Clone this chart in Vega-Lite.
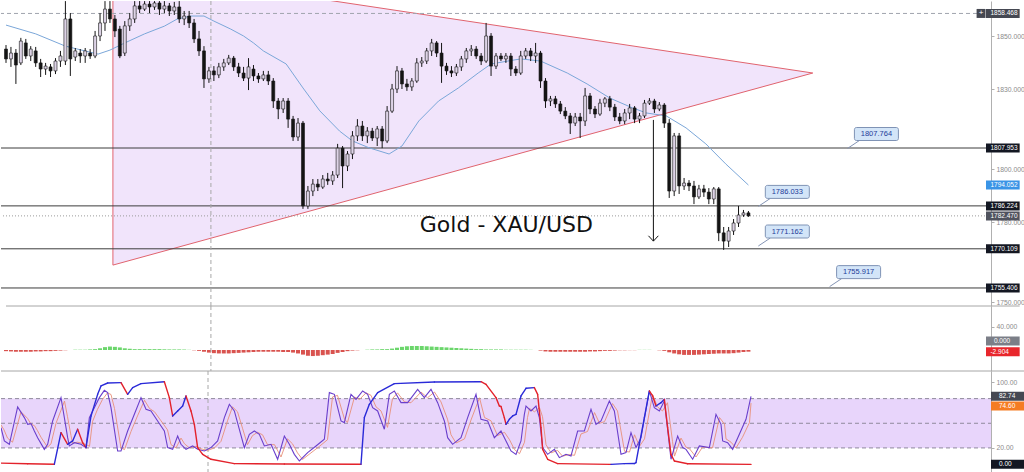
{
"$schema": "https://vega.github.io/schema/vega-lite/v6.json",
"background": "white",
"padding": 0,
"spacing": 0,
"bounds": "flush",
"config": {"view": {"stroke": null}, "axis": {"grid": false}, "text": {"font": "Liberation Sans"}},
"datasets": {
"c": [
{"t":0,"o":1845.1,"h":1846.6,"l":1839.9,"c":1841.4},{"t":1,"o":1841.4,"h":1845.9,"l":1838.4,"c":1843.6},{"t":2,"o":1843.6,"h":1845.1,"l":1832.0,"c":1839.1},{"t":3,"o":1839.9,"h":1849.3,"l":1839.1,"c":1848.1},{"t":4,"o":1847.4,"h":1848.9,"l":1841.4,"c":1842.5},{"t":5,"o":1842.5,"h":1846.2,"l":1840.6,"c":1845.1},{"t":6,"o":1844.4,"h":1845.9,"l":1838.4,"c":1839.9},{"t":7,"o":1839.9,"h":1841.4,"l":1834.6,"c":1837.6},{"t":8,"o":1837.6,"h":1839.9,"l":1835.4,"c":1838.7},{"t":9,"o":1838.4,"h":1839.5,"l":1834.6,"c":1836.9},
{"t":10,"o":1836.9,"h":1841.7,"l":1835.7,"c":1840.6},{"t":11,"o":1840.6,"h":1844.4,"l":1838.4,"c":1842.5},{"t":12,"o":1840.6,"h":1863.1,"l":1839.1,"c":1856.4},{"t":13,"o":1856.4,"h":1858.6,"l":1835.0,"c":1841.4},{"t":14,"o":1842.1,"h":1845.5,"l":1840.6,"c":1844.4},{"t":15,"o":1843.6,"h":1845.1,"l":1839.9,"c":1842.5},{"t":16,"o":1842.5,"h":1845.5,"l":1839.9,"c":1844.4},{"t":17,"o":1843.6,"h":1845.1,"l":1841.4,"c":1842.5},{"t":18,"o":1842.5,"h":1851.9,"l":1841.7,"c":1850.0},{"t":19,"o":1850.0,"h":1858.6,"l":1848.1,"c":1854.9},
{"t":20,"o":1854.9,"h":1863.1,"l":1851.9,"c":1860.1},{"t":21,"o":1860.1,"h":1863.1,"l":1854.9,"c":1856.4},{"t":22,"o":1856.4,"h":1857.9,"l":1849.6,"c":1851.9},{"t":23,"o":1852.6,"h":1853.8,"l":1841.7,"c":1842.5},{"t":24,"o":1843.6,"h":1855.6,"l":1842.5,"c":1853.8},{"t":25,"o":1853.8,"h":1858.6,"l":1851.9,"c":1856.4},{"t":26,"o":1856.4,"h":1863.1,"l":1854.9,"c":1861.3},{"t":27,"o":1861.3,"h":1863.1,"l":1858.6,"c":1860.1},{"t":28,"o":1860.1,"h":1863.1,"l":1859.4,"c":1862.0},{"t":29,"o":1862.0,"h":1863.1,"l":1858.6,"c":1860.9},
{"t":30,"o":1860.9,"h":1863.1,"l":1859.8,"c":1862.4},{"t":31,"o":1862.4,"h":1863.1,"l":1857.9,"c":1860.1},{"t":32,"o":1860.1,"h":1863.1,"l":1858.6,"c":1861.3},{"t":33,"o":1861.3,"h":1862.4,"l":1857.5,"c":1859.4},{"t":34,"o":1859.4,"h":1862.8,"l":1857.9,"c":1860.9},{"t":35,"o":1860.9,"h":1863.1,"l":1854.9,"c":1856.4},{"t":36,"o":1856.4,"h":1859.4,"l":1854.1,"c":1857.5},{"t":37,"o":1857.5,"h":1859.4,"l":1853.0,"c":1854.9},{"t":38,"o":1854.9,"h":1856.4,"l":1847.4,"c":1848.9},{"t":39,"o":1848.9,"h":1851.9,"l":1842.5,"c":1844.4},
{"t":40,"o":1844.4,"h":1846.2,"l":1830.5,"c":1833.9},{"t":41,"o":1833.9,"h":1838.4,"l":1832.4,"c":1836.9},{"t":42,"o":1836.9,"h":1838.7,"l":1833.1,"c":1835.4},{"t":43,"o":1835.4,"h":1839.9,"l":1834.2,"c":1838.4},{"t":44,"o":1838.4,"h":1841.4,"l":1836.9,"c":1839.9},{"t":45,"o":1839.9,"h":1842.9,"l":1839.1,"c":1841.7},{"t":46,"o":1841.7,"h":1842.5,"l":1836.9,"c":1838.4},{"t":47,"o":1838.4,"h":1839.9,"l":1834.6,"c":1836.1},{"t":48,"o":1836.1,"h":1838.4,"l":1833.1,"c":1834.2},{"t":49,"o":1834.2,"h":1841.7,"l":1829.7,"c":1838.4},
{"t":50,"o":1837.6,"h":1839.1,"l":1833.1,"c":1835.0},{"t":51,"o":1835.0,"h":1836.1,"l":1832.4,"c":1833.9},{"t":52,"o":1833.9,"h":1836.9,"l":1833.1,"c":1835.4},{"t":53,"o":1835.4,"h":1836.9,"l":1831.6,"c":1833.1},{"t":54,"o":1833.1,"h":1834.2,"l":1823.0,"c":1825.6},{"t":55,"o":1825.6,"h":1826.7,"l":1818.8,"c":1822.6},{"t":56,"o":1822.6,"h":1826.7,"l":1821.1,"c":1825.6},{"t":57,"o":1825.6,"h":1826.7,"l":1815.5,"c":1818.8},{"t":58,"o":1818.8,"h":1820.0,"l":1810.6,"c":1812.1},{"t":59,"o":1812.1,"h":1819.2,"l":1810.6,"c":1817.3},
{"t":60,"o":1817.3,"h":1818.1,"l":1785.1,"c":1786.2},{"t":61,"o":1786.2,"h":1793.7,"l":1785.1,"c":1791.8},{"t":62,"o":1791.8,"h":1796.3,"l":1789.9,"c":1794.4},{"t":63,"o":1794.4,"h":1796.3,"l":1791.8,"c":1793.3},{"t":64,"o":1793.3,"h":1797.8,"l":1792.6,"c":1796.3},{"t":65,"o":1796.3,"h":1798.6,"l":1794.1,"c":1795.6},{"t":66,"o":1795.6,"h":1799.3,"l":1794.1,"c":1797.8},{"t":67,"o":1797.8,"h":1809.5,"l":1796.7,"c":1807.9},{"t":68,"o":1807.9,"h":1808.7,"l":1792.9,"c":1801.2},{"t":69,"o":1801.2,"h":1806.8,"l":1799.3,"c":1805.7},
{"t":70,"o":1805.7,"h":1814.3,"l":1803.8,"c":1812.5},{"t":71,"o":1812.5,"h":1818.8,"l":1810.6,"c":1816.2},{"t":72,"o":1816.2,"h":1818.1,"l":1810.6,"c":1812.5},{"t":73,"o":1812.5,"h":1815.8,"l":1809.8,"c":1814.3},{"t":74,"o":1814.3,"h":1815.5,"l":1810.6,"c":1811.7},{"t":75,"o":1811.7,"h":1816.2,"l":1808.7,"c":1815.1},{"t":76,"o":1815.1,"h":1816.2,"l":1807.9,"c":1810.6},{"t":77,"o":1810.6,"h":1823.7,"l":1809.8,"c":1821.8},{"t":78,"o":1821.8,"h":1832.0,"l":1821.1,"c":1830.1},{"t":79,"o":1830.1,"h":1838.7,"l":1828.6,"c":1836.9},
{"t":80,"o":1836.9,"h":1838.0,"l":1830.1,"c":1832.0},{"t":81,"o":1832.0,"h":1833.9,"l":1829.4,"c":1830.9},{"t":82,"o":1830.9,"h":1834.2,"l":1829.4,"c":1833.1},{"t":83,"o":1833.1,"h":1841.7,"l":1832.4,"c":1839.9},{"t":84,"o":1839.9,"h":1842.1,"l":1838.4,"c":1840.6},{"t":85,"o":1840.6,"h":1845.5,"l":1839.5,"c":1844.4},{"t":86,"o":1844.4,"h":1848.9,"l":1842.5,"c":1847.4},{"t":87,"o":1847.4,"h":1848.1,"l":1842.1,"c":1843.6},{"t":88,"o":1843.6,"h":1847.4,"l":1832.4,"c":1838.7},{"t":89,"o":1838.7,"h":1839.9,"l":1835.4,"c":1836.9},
{"t":90,"o":1836.9,"h":1838.7,"l":1834.6,"c":1836.1},{"t":91,"o":1836.1,"h":1839.5,"l":1835.0,"c":1838.4},{"t":92,"o":1838.4,"h":1842.5,"l":1836.9,"c":1841.4},{"t":93,"o":1841.4,"h":1845.5,"l":1839.9,"c":1844.4},{"t":94,"o":1844.4,"h":1846.6,"l":1842.5,"c":1845.1},{"t":95,"o":1845.1,"h":1846.2,"l":1841.4,"c":1842.5},{"t":96,"o":1842.5,"h":1843.6,"l":1839.1,"c":1840.6},{"t":97,"o":1840.6,"h":1854.9,"l":1839.9,"c":1850.0},{"t":98,"o":1850.0,"h":1851.1,"l":1835.0,"c":1838.7},{"t":99,"o":1838.7,"h":1843.6,"l":1837.6,"c":1842.5},
{"t":100,"o":1842.5,"h":1843.6,"l":1840.6,"c":1841.4},{"t":101,"o":1841.4,"h":1843.6,"l":1839.9,"c":1842.5},{"t":102,"o":1842.5,"h":1843.6,"l":1835.0,"c":1837.6},{"t":103,"o":1837.6,"h":1838.7,"l":1835.0,"c":1836.1},{"t":104,"o":1836.1,"h":1844.4,"l":1835.4,"c":1842.5},{"t":105,"o":1842.5,"h":1845.5,"l":1841.4,"c":1844.4},{"t":106,"o":1844.4,"h":1845.5,"l":1840.6,"c":1842.5},{"t":107,"o":1842.5,"h":1847.4,"l":1839.9,"c":1843.6},{"t":108,"o":1843.6,"h":1844.4,"l":1830.5,"c":1833.1},{"t":109,"o":1833.1,"h":1834.2,"l":1823.0,"c":1825.6},
{"t":110,"o":1825.6,"h":1827.5,"l":1823.7,"c":1826.4},{"t":111,"o":1826.4,"h":1827.5,"l":1823.0,"c":1824.5},{"t":112,"o":1824.5,"h":1825.6,"l":1820.7,"c":1821.8},{"t":113,"o":1821.8,"h":1823.3,"l":1818.8,"c":1820.0},{"t":114,"o":1820.0,"h":1821.1,"l":1813.2,"c":1817.3},{"t":115,"o":1817.3,"h":1821.1,"l":1816.2,"c":1819.6},{"t":116,"o":1819.6,"h":1821.1,"l":1811.7,"c":1818.1},{"t":117,"o":1818.1,"h":1830.5,"l":1816.2,"c":1827.5},{"t":118,"o":1827.5,"h":1828.6,"l":1820.7,"c":1822.6},{"t":119,"o":1822.6,"h":1823.7,"l":1819.2,"c":1820.7},
{"t":120,"o":1820.7,"h":1826.4,"l":1820.0,"c":1824.8},{"t":121,"o":1824.8,"h":1827.1,"l":1823.3,"c":1826.4},{"t":122,"o":1826.4,"h":1827.5,"l":1821.8,"c":1823.3},{"t":123,"o":1823.3,"h":1824.5,"l":1818.1,"c":1819.6},{"t":124,"o":1819.6,"h":1821.1,"l":1816.9,"c":1818.1},{"t":125,"o":1818.1,"h":1822.6,"l":1816.9,"c":1821.1},{"t":126,"o":1821.1,"h":1824.5,"l":1818.8,"c":1823.0},{"t":127,"o":1823.0,"h":1823.7,"l":1817.3,"c":1818.8},{"t":128,"o":1818.8,"h":1821.1,"l":1817.3,"c":1820.0},{"t":129,"o":1820.0,"h":1826.0,"l":1819.2,"c":1824.8},
{"t":130,"o":1824.8,"h":1826.7,"l":1824.1,"c":1825.6},{"t":131,"o":1825.6,"h":1826.4,"l":1821.1,"c":1822.6},{"t":132,"o":1822.6,"h":1825.2,"l":1821.8,"c":1824.1},{"t":133,"o":1824.1,"h":1824.8,"l":1815.5,"c":1817.3},{"t":134,"o":1817.3,"h":1818.8,"l":1789.2,"c":1791.8},{"t":135,"o":1791.8,"h":1813.6,"l":1789.9,"c":1812.5},{"t":136,"o":1812.5,"h":1813.6,"l":1790.7,"c":1793.7},{"t":137,"o":1793.7,"h":1796.7,"l":1792.2,"c":1794.8},{"t":138,"o":1794.8,"h":1795.9,"l":1791.8,"c":1793.7},{"t":139,"o":1793.7,"h":1795.6,"l":1786.9,"c":1789.6},
{"t":140,"o":1789.6,"h":1794.1,"l":1788.8,"c":1792.6},{"t":141,"o":1792.6,"h":1794.1,"l":1789.6,"c":1791.4},{"t":142,"o":1791.4,"h":1792.9,"l":1786.9,"c":1788.8},{"t":143,"o":1788.8,"h":1793.3,"l":1786.9,"c":1792.6},{"t":144,"o":1792.6,"h":1793.3,"l":1773.0,"c":1776.1},{"t":145,"o":1776.1,"h":1778.3,"l":1769.7,"c":1773.0},{"t":146,"o":1773.0,"h":1778.3,"l":1770.8,"c":1776.8},{"t":147,"o":1776.8,"h":1781.3,"l":1775.3,"c":1779.8},{"t":148,"o":1779.8,"h":1786.2,"l":1778.3,"c":1782.8},{"t":149,"o":1782.8,"h":1784.7,"l":1782.1,"c":1783.6},
{"t":150,"o":1783.6,"h":1784.3,"l":1782.1,"c":1782.47}
],
"ma": [
{"t":0,"v":1854.1},{"t":6,"v":1850.8},{"t":12,"v":1846.2},{"t":18.6,"v":1843.2},{"t":21,"v":1844.7},{"t":24,"v":1847.4},{"t":28,"v":1850.8},{"t":32,"v":1853.7},{"t":34.6,"v":1856.4},{"t":37.4,"v":1857.5},{"t":40,"v":1857.5},{"t":42,"v":1855.6},{"t":45.4,"v":1852.6},{"t":48,"v":1850.0},{"t":50,"v":1847.4},{"t":52,"v":1844.4},{"t":56.6,"v":1839.5},{"t":60,"v":1830.5},{"t":63.4,"v":1821.9},{"t":67.4,"v":1814.3},{"t":70,"v":1810.6},{"t":73.4,"v":1808.0},{"t":77.4,"v":1805.7},{"t":80,"v":1808.7},{"t":83.4,"v":1818.1},{"t":87.4,"v":1825.6},{"t":91.4,"v":1830.5},{"t":95.4,"v":1836.1},{"t":98,"v":1839.5},{"t":101.4,"v":1840.6},{"t":104,"v":1841.4},{"t":108,"v":1840.6},{"t":113.4,"v":1836.1},{"t":117.4,"v":1832.0},{"t":122,"v":1826.7},{"t":126.6,"v":1823.0},{"t":129.4,"v":1821.1},{"t":133.4,"v":1820.0},{"t":137.4,"v":1815.5},{"t":141.4,"v":1809.5},{"t":145.4,"v":1802.0},{"t":150,"v":1794.052}
],
"tri": [{"t":21.6,"u":1875.6,"lo":1764.0},{"t":163,"u":1836.1,"lo":1836.1}],
"tl": [{"t":21.6,"v":1875.6,"t2":163,"v2":1836.1},{"t":21.6,"v":1764.0,"t2":163,"v2":1836.1},{"t":21.6,"v":1875.6,"t2":21.6,"v2":1764.0}],
"lv": [{"v":1807.953},{"v":1786.224},{"v":1770.109},{"v":1755.406}],
"arr": [{"t":130.8,"v":1818.5,"t2":130.8,"v2":1773.0},{"t":129.8,"v":1775.0,"t2":130.8,"v2":1773.0},{"t":131.8,"v":1775.0,"t2":130.8,"v2":1773.0}],
"co": [{"t":170,"v":1807.764,"lab":"1807.764"},{"t":152,"v":1786.033,"lab":"1786.033"},{"t":152,"v":1771.162,"lab":"1771.162"},{"t":166.4,"v":1755.917,"lab":"1755.917"}],
"ax": [{"v":1858.468,"lab":"1858.468","kind":"high"},{"v":1807.953,"lab":"1807.953","kind":"level"},{"v":1794.052,"lab":"1794.052","kind":"ma"},{"v":1786.224,"lab":"1786.224","kind":"level"},{"v":1782.47,"lab":"1782.470","kind":"last"},{"v":1770.109,"lab":"1770.109","kind":"level"},{"v":1755.406,"lab":"1755.406","kind":"level"}],
"mh": [
{"t":0,"m":-2},{"t":1,"m":-2.5},{"t":2,"m":-3},{"t":3,"m":-3},{"t":4,"m":-3},{"t":5,"m":-3},{"t":6,"m":-2.5},{"t":7,"m":-2.5},{"t":8,"m":-2},{"t":9,"m":-2},{"t":10,"m":-1.5},
{"t":11,"m":-1},{"t":12,"m":-0.5},{"t":13,"m":0},{"t":14,"m":0.5},{"t":15,"m":0.5},{"t":16,"m":0.5},{"t":17,"m":1},{"t":18,"m":1.5},
{"t":19,"m":3},{"t":20,"m":5},{"t":21,"m":6},{"t":22,"m":5.5},{"t":23,"m":4.5},{"t":24,"m":3},
{"t":25,"m":2},{"t":26,"m":1.5},{"t":27,"m":1.5},{"t":28,"m":1.5},{"t":29,"m":1.5},{"t":30,"m":1.5},{"t":31,"m":1.5},{"t":32,"m":1.2},{"t":33,"m":1},{"t":34,"m":1},{"t":35,"m":1},{"t":36,"m":0.8},
{"t":37,"m":0.3},{"t":38,"m":-0.5},
{"t":39,"m":-1.5},{"t":40,"m":-3},{"t":41,"m":-4.5},{"t":42,"m":-5.5},{"t":43,"m":-6},{"t":44,"m":-6},{"t":45,"m":-6},{"t":46,"m":-5.5},{"t":47,"m":-5},{"t":48,"m":-4.5},{"t":49,"m":-4},{"t":50,"m":-3.5},
{"t":51,"m":-3},{"t":52,"m":-3},{"t":53,"m":-3},{"t":54,"m":-3},{"t":55,"m":-3},{"t":56,"m":-3.5},{"t":57,"m":-3.5},{"t":58,"m":-4.5},
{"t":59,"m":-6},{"t":60,"m":-8},{"t":61,"m":-10},{"t":62,"m":-10.5},{"t":63,"m":-10},{"t":64,"m":-9},{"t":65,"m":-8},{"t":66,"m":-7},
{"t":67,"m":-5},{"t":68,"m":-3.5},{"t":69,"m":-2},{"t":70,"m":-1},
{"t":71,"m":-0.5},{"t":72,"m":0},{"t":73,"m":0.5},{"t":74,"m":1},{"t":75,"m":1},{"t":76,"m":1.5},{"t":77,"m":1.5},{"t":78,"m":2.5},
{"t":79,"m":4},{"t":80,"m":5.5},{"t":81,"m":6.5},{"t":82,"m":7},{"t":83,"m":7},{"t":84,"m":7},{"t":85,"m":6.5},{"t":86,"m":6},
{"t":87,"m":5.5},{"t":88,"m":5},{"t":89,"m":4.5},{"t":90,"m":4},{"t":91,"m":3.5},{"t":92,"m":3},{"t":93,"m":2.5},{"t":94,"m":2},
{"t":95,"m":1.5},{"t":96,"m":1.5},{"t":97,"m":1},{"t":98,"m":1},{"t":99,"m":1},{"t":100,"m":1},
{"t":101,"m":0.5},{"t":102,"m":0.5},{"t":103,"m":0.5},{"t":104,"m":0.5},{"t":105,"m":0.5},{"t":106,"m":0.3},{"t":107,"m":0},{"t":108,"m":-1},
{"t":109,"m":-2.5},{"t":110,"m":-3},{"t":111,"m":-3},{"t":112,"m":-3},{"t":113,"m":-3},{"t":114,"m":-3},{"t":115,"m":-3},{"t":116,"m":-3},{"t":117,"m":-3},{"t":118,"m":-2.5},{"t":119,"m":-2.5},{"t":120,"m":-2},
{"t":121,"m":-1.5},{"t":122,"m":-1.5},{"t":123,"m":-1},
{"t":124,"m":-0.5},{"t":125,"m":-0.5},{"t":126,"m":-0.3},{"t":127,"m":-0.3},{"t":128,"m":0.3},{"t":129,"m":0.3},{"t":130,"m":0.3},{"t":131,"m":0},{"t":132,"m":-0.5},{"t":133,"m":-1.5},
{"t":134,"m":-4},{"t":135,"m":-6},{"t":136,"m":-7.5},{"t":137,"m":-8.5},{"t":138,"m":-8.5},{"t":139,"m":-8.5},{"t":140,"m":-8},
{"t":141,"m":-7.5},{"t":142,"m":-7},{"t":143,"m":-6.5},{"t":144,"m":-6},{"t":145,"m":-6},{"t":146,"m":-6},{"t":147,"m":-5.5},{"t":148,"m":-4.5},{"t":149,"m":-3.5},{"t":150,"m":-2.904}
],
"mb": [{"v":0,"lab":"0.000","kind":"zero"},{"v":-2.904,"lab":"-2.904","kind":"hist"}],
"k": [
{"t":0,"k":44.7},{"t":0.67,"k":28.5},{"t":1.67,"k":24.4},{"t":3.33,"k":69.8},{"t":4.67,"k":56.9},{"t":5.33,"k":48.7},{"t":6,"k":49.6},{"t":6.67,"k":40.6},{"t":7.33,"k":32.5},{"t":8.67,"k":18.3},{"t":9.33,"k":24.4},{"t":10.33,"k":52.8},{"t":12,"k":81.2},{"t":12.67,"k":56.9},{"t":13.33,"k":32.5},{"t":13.67,"k":22.4},{"t":14.67,"k":26.4},{"t":16,"k":24.4},{"t":17,"k":20.4},{"t":17.67,"k":56.9},{"t":18.67,"k":69.0},{"t":19.67,"k":81.2},{"t":20.67,"k":90.1},{"t":21.33,"k":87.3},{"t":22,"k":69.0},{"t":23.33,"k":16.3},{"t":24,"k":16.3},{"t":25.33,"k":40.6},{"t":26.67,"k":60.9},{"t":28,"k":81.2},{"t":29,"k":67.0},{"t":30,"k":65.0},{"t":31.33,"k":52.8},{"t":32.67,"k":40.6},{"t":33.33,"k":20.4},{"t":34.33,"k":18.3},{"t":35.33,"k":34.5},{"t":36,"k":24.4},{"t":37,"k":18.3},{"t":38.33,"k":22.4},{"t":39.33,"k":18.3},{"t":40.67,"k":16.3},{"t":42,"k":20.4},{"t":43.33,"k":28.5},{"t":44.67,"k":56.9},{"t":45.67,"k":73.1},{"t":46.67,"k":65.0},{"t":47.67,"k":42.7},{"t":48.67,"k":20.4},{"t":49.67,"k":36.6},{"t":50.67,"k":40.6},{"t":51.67,"k":36.6},{"t":52.67,"k":22.4},{"t":54,"k":24.4},{"t":55.33,"k":6.2},{"t":56.67,"k":34.5},{"t":57.67,"k":24.4},{"t":58.67,"k":12.2},{"t":59.67,"k":4.1},{"t":61.33,"k":14.3},{"t":63,"k":22.4},{"t":64.67,"k":30.5},{"t":65.67,"k":87.3},{"t":66.67,"k":85.2},{"t":68,"k":52.8},{"t":68.67,"k":50.8},{"t":70,"k":85.2},{"t":71,"k":79.1},{"t":72.33,"k":89.3},{"t":73.33,"k":85.2},{"t":74.33,"k":69.0},{"t":75.33,"k":65.0},{"t":76.67,"k":42.7},{"t":77.67,"k":85.2},{"t":78.67,"k":89.3},{"t":80,"k":75.1},{"t":81.33,"k":75.1},{"t":83.33,"k":91.3},{"t":84.67,"k":81.2},{"t":86,"k":91.3},{"t":87.33,"k":75.1},{"t":88.67,"k":52.8},{"t":89.33,"k":32.5},{"t":90.33,"k":24.4},{"t":92,"k":32.5},{"t":93.33,"k":56.9},{"t":95,"k":85.2},{"t":96,"k":54.8},{"t":97.33,"k":52.8},{"t":98.67,"k":32.5},{"t":100,"k":40.6},{"t":101,"k":28.5},{"t":102,"k":16.3},{"t":103,"k":12.2},{"t":104,"k":28.5},{"t":104.67,"k":60.9},{"t":105,"k":71.0},{"t":106,"k":65.0},{"t":107,"k":71.0},{"t":107.67,"k":56.9},{"t":108.33,"k":20.4},{"t":109.33,"k":12.2},{"t":110.67,"k":18.3},{"t":111.67,"k":8.2},{"t":113,"k":12.2},{"t":114,"k":10.2},{"t":115.33,"k":40.6},{"t":116.67,"k":40.6},{"t":118,"k":67.0},{"t":119,"k":48.7},{"t":120,"k":52.8},{"t":121.67,"k":77.1},{"t":122.67,"k":65.0},{"t":124,"k":12.2},{"t":125,"k":14.3},{"t":126,"k":38.6},{"t":127,"k":20.4},{"t":128,"k":32.5},{"t":129.67,"k":89.3},{"t":130.67,"k":69.0},{"t":131.67,"k":65.0},{"t":132.67,"k":77.1},{"t":133.67,"k":24.4},{"t":134,"k":6.2},{"t":135.33,"k":34.5},{"t":136.33,"k":20.4},{"t":137,"k":18.3},{"t":138.33,"k":6.2},{"t":139.67,"k":22.4},{"t":141.67,"k":20.4},{"t":143,"k":60.9},{"t":144,"k":48.7},{"t":144.33,"k":28.5},{"t":145.33,"k":26.4},{"t":146.33,"k":18.3},{"t":147.67,"k":36.6},{"t":149,"k":54.8},{"t":150,"k":82.74}
],
"d": [
{"t":0,"d":48},{"t":0.6,"d":42},{"t":1.3,"d":32},{"t":2.3,"d":27},{"t":4,"d":64},{"t":5.3,"d":56},{"t":6,"d":49},{"t":6.7,"d":47},{"t":7.3,"d":41},{"t":8,"d":33},{"t":9.3,"d":21},{"t":10,"d":25},{"t":11,"d":50},{"t":12.7,"d":77},{"t":13.3,"d":58},{"t":14,"d":35},{"t":14.3,"d":26},{"t":15.3,"d":27},{"t":16.7,"d":25},{"t":17.7,"d":22},{"t":18.3,"d":52},{"t":19.3,"d":67},{"t":20.3,"d":79},{"t":21.3,"d":87},{"t":22,"d":85},{"t":22.7,"d":68},{"t":24,"d":20},{"t":24.7,"d":18},{"t":26,"d":40},{"t":27.3,"d":59},{"t":28.7,"d":78},{"t":29.7,"d":68},{"t":30.7,"d":64},{"t":32,"d":53},{"t":33.3,"d":42},{"t":34,"d":24},{"t":35,"d":20},{"t":36,"d":32},{"t":36.7,"d":25},{"t":37.7,"d":20},{"t":39,"d":22},{"t":40,"d":19},{"t":41.3,"d":17},{"t":42.7,"d":20},{"t":44,"d":28},{"t":45.3,"d":53},{"t":46.3,"d":70},{"t":47.3,"d":64},{"t":48.3,"d":44},{"t":49.3,"d":24},{"t":50.3,"d":35},{"t":51.3,"d":39},{"t":52.3,"d":36},{"t":53.3,"d":24},{"t":54.7,"d":24},{"t":56,"d":9},{"t":57.3,"d":31},{"t":58.3,"d":25},{"t":59.3,"d":14},{"t":60.3,"d":6},{"t":62,"d":14},{"t":63.7,"d":22},{"t":65.3,"d":30},{"t":66.3,"d":82},{"t":67.3,"d":84},{"t":68.7,"d":55},{"t":69.3,"d":51},{"t":70.7,"d":82},{"t":71.7,"d":79},{"t":73,"d":87},{"t":74,"d":84},{"t":75,"d":70},{"t":76,"d":65},{"t":77.3,"d":45},{"t":78.3,"d":80},{"t":79.3,"d":87},{"t":80.7,"d":76},{"t":82,"d":75},{"t":84,"d":88},{"t":85.3,"d":81},{"t":86.7,"d":88},{"t":88,"d":76},{"t":89.3,"d":55},{"t":90,"d":36},{"t":91,"d":26},{"t":92.7,"d":31},{"t":94,"d":54},{"t":95.7,"d":81},{"t":96.7,"d":57},{"t":98,"d":53},{"t":99.3,"d":35},{"t":100.7,"d":39},{"t":101.7,"d":30},{"t":102.7,"d":18},{"t":103.7,"d":13},{"t":104.7,"d":27},{"t":105.3,"d":57},{"t":105.7,"d":68},{"t":106.7,"d":64},{"t":107.7,"d":69},{"t":108.3,"d":58},{"t":109,"d":24},{"t":110,"d":14},{"t":111.3,"d":17},{"t":112.3,"d":10},{"t":113.7,"d":12},{"t":114.7,"d":11},{"t":116,"d":37},{"t":117.3,"d":40},{"t":118.7,"d":63},{"t":119.7,"d":50},{"t":120.7,"d":52},{"t":122.3,"d":74},{"t":123.3,"d":65},{"t":124.7,"d":16},{"t":125.7,"d":15},{"t":126.7,"d":36},{"t":127.7,"d":22},{"t":128.7,"d":31},{"t":130.3,"d":85},{"t":131.3,"d":70},{"t":132.3,"d":65},{"t":133.3,"d":75},{"t":134.3,"d":28},{"t":134.7,"d":10},{"t":136,"d":32},{"t":137,"d":21},{"t":137.7,"d":19},{"t":139,"d":9},{"t":140.3,"d":21},{"t":142.3,"d":20},{"t":143.7,"d":57},{"t":144.7,"d":49},{"t":145,"d":31},{"t":146,"d":27},{"t":147,"d":20},{"t":148.3,"d":33},{"t":149.7,"d":51},{"t":150,"d":74.6}
],
"s": [
{"t":0,"s":1.5},{"t":5.33,"s":0.8},{"t":10.67,"s":0.2},{"t":12,"s":38.6},{"t":13.33,"s":24.4},{"t":14.33,"s":28.5},{"t":15.33,"s":42.7},{"t":16.33,"s":26.4},{"t":17,"s":20.4},{"t":18,"s":58.9},{"t":19.33,"s":85.2},{"t":20,"s":95.4},{"t":21.33,"s":99.0},{"t":24,"s":99.4},{"t":25.33,"s":85.2},{"t":26.33,"s":93.3},{"t":28,"s":98.2},{"t":32.67,"s":100.5},{"t":33.67,"s":81.2},{"t":34.33,"s":58.9},{"t":35.33,"s":65.0},{"t":36.33,"s":71.0},{"t":37,"s":83.2},{"t":38,"s":65.0},{"t":38.67,"s":48.7},{"t":39.33,"s":20.4},{"t":40.33,"s":12.2},{"t":42,"s":6.2},{"t":46.67,"s":0.9},{"t":56.67,"s":0.4},{"t":72,"s":0.1},{"t":72.67,"s":56.9},{"t":73.67,"s":73.1},{"t":75.33,"s":87.3},{"t":78.67,"s":98.2},{"t":86.67,"s":100.2},{"t":96,"s":100.6},{"t":97,"s":97.4},{"t":99,"s":81.2},{"t":99.67,"s":71.0},{"t":100,"s":70.5},{"t":100.67,"s":56.9},{"t":101,"s":48.7},{"t":101.67,"s":54.8},{"t":102.33,"s":58.9},{"t":103,"s":60.9},{"t":104,"s":83.2},{"t":105,"s":92.6},{"t":106.67,"s":93.4},{"t":107.33,"s":85.2},{"t":108,"s":44.7},{"t":108.33,"s":18.3},{"t":109.33,"s":6.2},{"t":111.33,"s":0.9},{"t":122,"s":0.0},{"t":124.67,"s":0.9},{"t":126.67,"s":1.0},{"t":127,"s":2.1},{"t":127.67,"s":24.4},{"t":128.67,"s":56.9},{"t":129.67,"s":89.3},{"t":130.33,"s":83.2},{"t":131,"s":71.0},{"t":132,"s":75.1},{"t":132.67,"s":79.1},{"t":133.33,"s":44.7},{"t":134,"s":12.2},{"t":134.67,"s":4.1},{"t":137.33,"s":0.8},{"t":150,"s":0.0}
],
"sb": [{"v":82.74,"lab":"82.74","kind":"k"},{"v":74.6,"lab":"74.60","kind":"d"},{"v":0,"lab":"0.00","kind":"s"}],
"lines": [{"v":80},{"v":50},{"v":20}],
"one": [{"n":1}]
},
"vconcat": [
{
"width": 990, "height": 305,
"layer": [
{"data": {"name": "tri"}, "mark": {"type": "area", "color": "#f1e4fb", "clip": true},
 "encoding": {"x": {"field": "t", "type": "quantitative", "scale": {"domain": [0, 198], "nice": false, "zero": false}, "axis": null},
  "y": {"field": "u", "type": "quantitative", "scale": {"domain": [1748.64, 1863.14], "nice": false, "zero": false},
   "axis": {"orient": "right", "title": null, "values": [1750,1760,1780,1790,1800,1820,1830,1840,1850], "format": ".3f", "labelFontSize": 6.8, "labelFont": "Liberation Sans", "labelColor": "#8c8c8c", "tickColor": "#b0b0b0", "domainColor": "#b0b0b0", "tickSize": 3, "labelPadding": 2, "labelOverlap": false, "labelFlush": false, "labelBound": false}},
  "y2": {"field": "lo"}}},
{"data": {"name": "tl"}, "mark": {"type": "rule", "color": "#e0636e", "strokeWidth": 1, "clip": true},
 "encoding": {"x": {"field": "t", "type": "quantitative"}, "x2": {"field": "t2"}, "y": {"field": "v", "type": "quantitative"}, "y2": {"field": "v2"}}},
{"data": {"name": "lv"}, "mark": {"type": "rule", "color": "#3c3c3c", "strokeWidth": 1},
 "encoding": {"y": {"field": "v", "type": "quantitative"}}},
{"data": {"name": "one"}, "mark": {"type": "rule", "color": "#a0a4ae", "strokeWidth": 1, "strokeDash": [4, 3]},
 "encoding": {"y": {"datum": 1858.468}}},
{"data": {"name": "one"}, "mark": {"type": "rule", "color": "#9a9a9a", "strokeWidth": 1, "strokeDash": [1, 2]},
 "encoding": {"y": {"datum": 1782.47}}},
{"data": {"name": "one"}, "mark": {"type": "rule", "color": "#a8a8a8", "strokeWidth": 1, "strokeDash": [4, 3]},
 "encoding": {"x": {"datum": 41.4}}},
{"data": {"name": "ma"}, "mark": {"type": "line", "color": "#7ba7d9", "strokeWidth": 1, "clip": true},
 "encoding": {"x": {"field": "t", "type": "quantitative"}, "y": {"field": "v", "type": "quantitative"}}},
{"data": {"name": "c"}, "mark": {"type": "rule", "color": "#141414", "strokeWidth": 1, "clip": true},
 "encoding": {"x": {"field": "t", "type": "quantitative"}, "y": {"field": "l", "type": "quantitative"}, "y2": {"field": "h"}}},
{"data": {"name": "c"}, "mark": {"type": "bar", "size": 3, "stroke": "#141414", "strokeWidth": 0.6, "clip": true},
 "encoding": {"x": {"field": "t", "type": "quantitative"}, "y": {"field": "o", "type": "quantitative"}, "y2": {"field": "c"},
  "fill": {"condition": {"test": "datum.c >= datum.o", "value": "#ddd3e6"}, "value": "#141414"}}},
{"data": {"name": "arr"}, "mark": {"type": "rule", "color": "#111111", "strokeWidth": 1},
 "encoding": {"x": {"field": "t", "type": "quantitative"}, "x2": {"field": "t2"}, "y": {"field": "v", "type": "quantitative"}, "y2": {"field": "v2"}}},
{"data": {"values": [{"lab": "Gold - XAU/USD"}]}, "mark": {"type": "text", "font": "DejaVu Sans", "fontSize": 22, "color": "#111111", "align": "center", "baseline": "alphabetic"},
 "encoding": {"x": {"datum": 101.1}, "y": {"datum": 1776.5}, "text": {"field": "lab"}}},
{"data": {"name": "co"}, "mark": {"type": "rule", "color": "#8494b4", "strokeWidth": 1, "x2Offset": 12, "y2Offset": -8},
 "encoding": {"x": {"field": "t", "type": "quantitative"}, "x2": {"field": "t"}, "y": {"field": "v", "type": "quantitative"}, "y2": {"field": "v"}}},
{"data": {"name": "co"}, "mark": {"type": "rect", "fill": "#d3e5f8", "stroke": "#7f93b5", "strokeWidth": 1, "cornerRadius": 2, "xOffset": 7, "x2Offset": 51, "yOffset": -21, "y2Offset": -8},
 "encoding": {"x": {"field": "t", "type": "quantitative"}, "x2": {"field": "t"}, "y": {"field": "v", "type": "quantitative"}, "y2": {"field": "v"}}},
{"data": {"name": "co"}, "mark": {"type": "text", "fontSize": 7.5, "color": "#1f3c99", "align": "center", "baseline": "middle", "xOffset": 29, "yOffset": -14.5},
 "encoding": {"x": {"field": "t", "type": "quantitative"}, "y": {"field": "v", "type": "quantitative"}, "text": {"field": "lab"}}},
{"data": {"name": "ax"}, "mark": {"type": "rect", "yOffset": -4.5, "y2Offset": 4.5},
 "encoding": {"x": {"datum": 198}, "x2": {"datum": 204.8}, "y": {"field": "v", "type": "quantitative"}, "y2": {"field": "v"},
  "color": {"field": "kind", "type": "nominal", "scale": {"domain": ["high", "level", "ma", "last"], "range": ["#454852", "#131722", "#3a94e6", "#50535e"]}, "legend": null}}},
{"data": {"name": "ax"}, "mark": {"type": "text", "fontSize": 6.5, "color": "#ffffff", "align": "left", "baseline": "middle"},
 "encoding": {"x": {"datum": 198.9}, "y": {"field": "v", "type": "quantitative"}, "text": {"field": "lab"}}},
{"data": {"name": "one"}, "mark": {"type": "rect", "color": "#454852", "yOffset": -4.5, "y2Offset": 4.5},
 "encoding": {"x": {"datum": 196.1}, "x2": {"datum": 197.9}, "y": {"datum": 1858.468}, "y2": {"datum": 1858.468}}},
{"data": {"values": [{"lab": "+"}]}, "mark": {"type": "text", "fontSize": 8, "color": "#ffffff", "align": "center", "baseline": "middle"},
 "encoding": {"x": {"datum": 197}, "y": {"datum": 1858.468}, "text": {"field": "lab"}}}
]
},
{
"width": 990, "height": 65,
"layer": [
{"data": {"name": "mh"}, "mark": {"type": "bar", "size": 4, "clip": true},
 "encoding": {"x": {"field": "t", "type": "quantitative", "scale": {"domain": [0, 198], "nice": false, "zero": false}, "axis": null},
  "y": {"field": "m", "type": "quantitative", "scale": {"domain": [-36.5, 76.5], "nice": false, "zero": false},
   "axis": {"orient": "right", "title": null, "values": [40], "format": ".3f", "labelFontSize": 6.8, "labelFont": "Liberation Sans", "labelColor": "#8c8c8c", "tickColor": "#b0b0b0", "domainColor": "#b0b0b0", "tickSize": 3, "labelPadding": 2, "labelOverlap": false, "labelFlush": false, "labelBound": false}},
  "y2": {"datum": 0},
  "color": {"condition": {"test": "datum.m >= 0", "value": "#6bd66b"}, "value": "#d9534f"}}},
{"data": {"name": "one"}, "mark": {"type": "rule", "color": "#a8a8a8", "strokeWidth": 1, "strokeDash": [4, 3]},
 "encoding": {"x": {"datum": 41.4}}},
{"data": {"name": "one"}, "mark": {"type": "rule", "color": "#a6a6a6", "strokeWidth": 1},
 "encoding": {"x": {"datum": 0}, "x2": {"datum": 204.8}, "y": {"datum": 76.5}}},
{"data": {"name": "mb"}, "transform": [{"filter": "datum.kind == 'hist'"}], "mark": {"type": "rect", "color": "#e8262c", "yOffset": -4.5, "y2Offset": 4.5},
 "encoding": {"x": {"datum": 198}, "x2": {"datum": 204.8}, "y": {"field": "v", "type": "quantitative"}, "y2": {"field": "v"}}},
{"data": {"name": "mb"}, "transform": [{"filter": "datum.kind == 'zero'"}], "mark": {"type": "rect", "color": "#7b7e87", "yOffset": -13.5, "y2Offset": -4.5},
 "encoding": {"x": {"datum": 198}, "x2": {"datum": 204.8}, "y": {"field": "v", "type": "quantitative"}, "y2": {"field": "v"}}},
{"data": {"name": "mb"}, "transform": [{"filter": "datum.kind == 'hist'"}], "mark": {"type": "text", "fontSize": 6.5, "color": "#ffffff", "align": "left", "baseline": "middle"},
 "encoding": {"x": {"datum": 198.9}, "y": {"field": "v", "type": "quantitative"}, "text": {"field": "lab"}}},
{"data": {"name": "mb"}, "transform": [{"filter": "datum.kind == 'zero'"}], "mark": {"type": "text", "fontSize": 6.5, "color": "#ffffff", "align": "left", "baseline": "middle", "dy": -9},
 "encoding": {"x": {"datum": 199.6}, "y": {"field": "v", "type": "quantitative"}, "text": {"field": "lab"}}}
]
},
{
"width": 990, "height": 102,
"layer": [
{"data": {"name": "one"}, "mark": {"type": "rect", "color": "#e8d5fb"},
 "encoding": {"x": {"datum": 0, "type": "quantitative", "scale": {"domain": [0, 198], "nice": false, "zero": false}, "axis": null}, "x2": {"datum": 198},
  "y": {"datum": 20, "type": "quantitative", "scale": {"domain": [-10.5, 113.6], "nice": false, "zero": false},
   "axis": {"orient": "right", "title": null, "values": [20, 40, 60, 100], "format": ".2f", "labelFontSize": 6.8, "labelFont": "Liberation Sans", "labelColor": "#8c8c8c", "tickColor": "#b0b0b0", "domainColor": "#b0b0b0", "tickSize": 3, "labelPadding": 2, "labelOverlap": false, "labelFlush": false, "labelBound": false}},
  "y2": {"datum": 80}}},
{"data": {"name": "lines"}, "mark": {"type": "rule", "color": "#8f8a9c", "strokeWidth": 1, "strokeDash": [4, 3]},
 "encoding": {"x": {"datum": 0}, "x2": {"datum": 198}, "y": {"field": "v", "type": "quantitative"}}},
{"data": {"name": "one"}, "mark": {"type": "rule", "color": "#a8a8a8", "strokeWidth": 1, "strokeDash": [4, 3]},
 "encoding": {"x": {"datum": 41.4}}},
{"data": {"name": "d"}, "mark": {"type": "line", "color": "#e8907a", "strokeWidth": 1, "opacity": 0.9, "clip": true},
 "encoding": {"x": {"field": "t", "type": "quantitative"}, "y": {"field": "d", "type": "quantitative"}}},
{"data": {"name": "k"}, "mark": {"type": "line", "color": "#6a3fcc", "strokeWidth": 1.1, "clip": true},
 "encoding": {"x": {"field": "t", "type": "quantitative"}, "y": {"field": "k", "type": "quantitative"}}},
{"data": {"name": "s"},
 "transform": [{"window": [{"op": "lead", "field": "t", "as": "t2"}, {"op": "lead", "field": "s", "as": "s2"}], "sort": [{"field": "t", "order": "ascending"}]}, {"filter": "datum.t2 != null"}],
 "mark": {"type": "rule", "strokeWidth": 1.4, "strokeCap": "round", "clip": true},
 "encoding": {"x": {"field": "t", "type": "quantitative"}, "x2": {"field": "t2"}, "y": {"field": "s", "type": "quantitative"}, "y2": {"field": "s2"},
  "color": {"condition": {"test": "datum.s2 >= datum.s", "value": "#2a2ad8"}, "value": "#e3222b"}}},
{"data": {"name": "one"}, "mark": {"type": "rule", "color": "#a6a6a6", "strokeWidth": 1},
 "encoding": {"x": {"datum": 0}, "x2": {"datum": 204.8}, "y": {"datum": 113.6}}},
{"data": {"name": "sb"}, "transform": [{"filter": "datum.kind != 'd'"}], "mark": {"type": "rect", "yOffset": -4.5, "y2Offset": 4.5},
 "encoding": {"x": {"datum": 198}, "x2": {"datum": 204.8}, "y": {"field": "v", "type": "quantitative"}, "y2": {"field": "v"},
  "color": {"field": "kind", "type": "nominal", "scale": {"domain": ["k", "s"], "range": ["#6d45c9", "#e8262c"]}, "legend": null}}},
{"data": {"name": "sb"}, "transform": [{"filter": "datum.kind == 'd'"}], "mark": {"type": "rect", "color": "#f57c22", "yOffset": -1.5, "y2Offset": 7.5},
 "encoding": {"x": {"datum": 198}, "x2": {"datum": 204.8}, "y": {"field": "v", "type": "quantitative"}, "y2": {"field": "v"}}},
{"data": {"name": "sb"}, "transform": [{"filter": "datum.kind != 'd'"}], "mark": {"type": "text", "fontSize": 6.5, "color": "#ffffff", "align": "left", "baseline": "middle"},
 "encoding": {"x": {"datum": 199.6}, "y": {"field": "v", "type": "quantitative"}, "text": {"field": "lab"}}},
{"data": {"name": "sb"}, "transform": [{"filter": "datum.kind == 'd'"}], "mark": {"type": "text", "fontSize": 6.5, "color": "#ffffff", "align": "left", "baseline": "middle", "dy": 3},
 "encoding": {"x": {"datum": 199.6}, "y": {"field": "v", "type": "quantitative"}, "text": {"field": "lab"}}}
]
}
]
}
